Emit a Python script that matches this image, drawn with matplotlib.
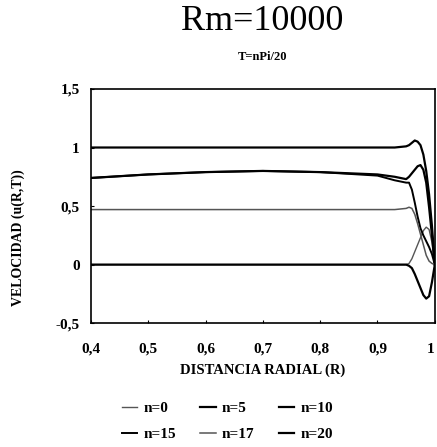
import matplotlib
matplotlib.use('Agg')
import matplotlib.pyplot as plt
from matplotlib.ticker import FixedLocator

matplotlib.rcParams.update({
    'font.family': ['Liberation Serif', 'DejaVu Serif'],
    'axes.linewidth': 1.2,
    'xtick.direction': 'in',
    'ytick.direction': 'in',
    'xtick.major.size': 2.5,
    'ytick.major.size': 2.5,
})

# radial grid (denser near the wall)
radius = [0.40, 0.50, 0.60, 0.70, 0.80, 0.90, 0.93, 0.95, 0.955, 0.96,
          0.965, 0.97, 0.975, 0.98, 0.985, 0.99, 0.995, 1.00]

# velocity u(R,T) per time step n
u_n0 = [0.00, 0.00, 0.00, 0.00, 0.00, 0.00, 0.00, 0.00, 0.01, 0.05,
        0.11, 0.17, 0.23, 0.29, 0.32, 0.30, 0.19, 0.00]
u_n5 = [0.74, 0.77, 0.79, 0.80, 0.79, 0.77, 0.75, 0.73, 0.75, 0.78,
        0.81, 0.84, 0.85, 0.81, 0.70, 0.49, 0.25, 0.00]
u_n10 = [1.00, 1.00, 1.00, 1.00, 1.00, 1.00, 1.00, 1.01, 1.02, 1.04,
         1.06, 1.05, 1.02, 0.94, 0.80, 0.60, 0.33, 0.00]
u_n15 = [0.74, 0.77, 0.79, 0.80, 0.79, 0.76, 0.72, 0.70, 0.70, 0.64,
         0.53, 0.41, 0.31, 0.25, 0.20, 0.15, 0.09, 0.00]
u_n17 = [0.47, 0.47, 0.47, 0.47, 0.47, 0.47, 0.47, 0.48, 0.49, 0.48,
         0.43, 0.35, 0.26, 0.17, 0.08, 0.03, 0.01, 0.00]
u_n20 = [0.00, 0.00, 0.00, 0.00, 0.00, 0.00, 0.00, 0.00, -0.01, -0.03,
         -0.08, -0.14, -0.20, -0.26, -0.29, -0.27, -0.15, 0.00]

series = [u_n0, u_n5, u_n10, u_n15, u_n17, u_n20]
labels = ['n=0', 'n=5', 'n=10', 'n=15', 'n=17', 'n=20']
colors = ['#555555', 'black', 'black', 'black', '#555555', 'black']
widths = [1.0, 1.6, 1.6, 1.4, 1.1, 1.6]

xticks = [0.4, 0.5, 0.6, 0.7, 0.8, 0.9, 1.0]
xtick_labels = ['0,4', '0,5', '0,6', '0,7', '0,8', '0,9', '1']
yticks = [-0.5, 0, 0.5, 1, 1.5]
ytick_labels = ['-0,5', '0', '0,5', '1', '1,5']

fig = plt.figure(figsize=(4.37, 4.47), dpi=100)
ax = fig.add_axes([0.208, 0.277, 0.787, 0.524])

lines = []
for u, label, color, lw in zip(series, labels, colors, widths):
    line, = ax.plot(radius, u, color=color, linewidth=lw, label=label)
    lines.append(line)

ax.set_xlim(0.4, 1.0)
ax.set_ylim(-0.5, 1.5)
ax.xaxis.set_major_locator(FixedLocator(xticks))
ax.yaxis.set_major_locator(FixedLocator(yticks))
ax.set_xticklabels(xtick_labels, fontsize=11, fontweight='bold')
ax.set_yticklabels(ytick_labels, fontsize=11, fontweight='bold')
ax.tick_params(axis='x', pad=14)
ax.tick_params(axis='y', pad=8)
ax.get_xticklabels()[-1].set_horizontalalignment('right')

ax.set_xlabel('DISTANCIA RADIAL (R)', fontsize=10.5, fontweight='bold',
              labelpad=6)
fig.text(0.041, 0.468, 'VELOCIDAD (u(R,T))', rotation=90, fontsize=10,
         fontweight='bold', ha='center', va='center')

fig.text(0.6, 0.952, 'Rm=10000', fontsize=26, ha='center', va='center')
fig.text(0.6, 0.872, 'T=nPi/20', fontsize=9, fontweight='bold',
         ha='center', va='center')

# legend laid out row by row: n=0 n=5 n=10 / n=15 n=17 n=20
order = [0, 3, 1, 4, 2, 5]
fig.legend([lines[i] for i in order], [labels[i] for i in order],
           ncol=3, frameon=False, loc='center', bbox_to_anchor=(0.52, 0.058),
           handlelength=1.0, handletextpad=0.4, columnspacing=1.6,
           labelspacing=0.8, prop={'size': 11, 'weight': 'bold'})

fig.savefig('out.png', dpi=100)
